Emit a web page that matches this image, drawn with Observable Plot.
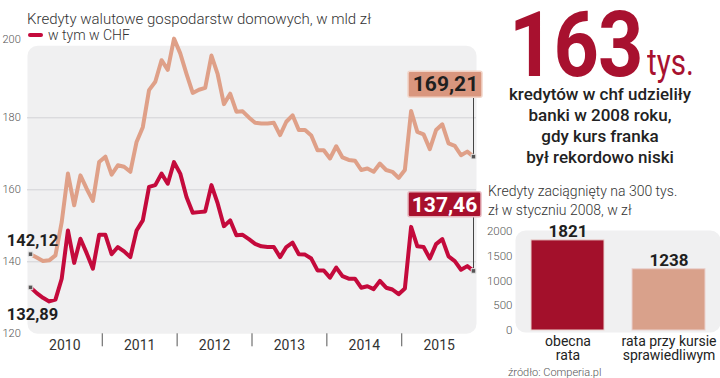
<!DOCTYPE html>
<html><head><meta charset="utf-8">
<script src="https://cdn.jsdelivr.net/npm/d3@7"></script>
<script src="https://cdn.jsdelivr.net/npm/@observablehq/plot@0.6"></script>
<style>
html,body{margin:0;padding:0;background:#fff;}
#wrap{position:relative;width:720px;height:378px;overflow:hidden;font-family:Roboto,sans-serif;}
.abs{position:absolute;white-space:nowrap;}
#p1,#p2{position:absolute;top:0;}
#p1{left:0;} #p2{left:480px;}
</style></head><body>
<div id="wrap">
  <div id="p1"></div>
  <div id="p2"></div>
  <div class="abs" style="left:27px;top:12px;font-size:15px;line-height:15px;font-weight:300;color:#333;">Kredyty walutowe gospodarstw domowych, w mld zł</div>
  <div class="abs" style="left:28px;top:33px;width:15px;height:4px;border-radius:2px;background:#c40a3c;"></div>
  <div class="abs" style="left:48px;top:28px;font-size:14px;line-height:14px;font-weight:300;color:#333;">w tym w CHF</div>
  <div class="abs" style="left:509px;top:13.2px;font-weight:bold;font-size:90px;line-height:66px;color:#a8112f;transform:scaleX(0.88);transform-origin:0 0;letter-spacing:-1px;">163</div>
  <div class="abs" style="left:647px;top:47px;font-size:37px;line-height:32px;color:#a8112f;transform:scaleX(0.8);transform-origin:0 0;">tys.</div>
  <div class="abs" style="left:500px;top:83.5px;width:200px;text-align:center;font-size:17px;line-height:21.3px;font-weight:500;color:#222;">kredytów w chf udzieliły<br>banki w 2008 roku,<br>gdy kurs franka<br>był rekordowo niski</div>
  <div class="abs" style="left:488px;top:181.7px;font-size:14px;line-height:19px;font-weight:300;color:#333;">Kredyty zaciągnięty na 300 tys.<br>zł w styczniu 2008, w zł</div>
  <div class="abs" style="left:508px;top:366.5px;font-size:11px;line-height:11px;font-weight:300;color:#555;">źródło: Comperia.pl</div>
</div>
<script>
// ---- data: line chart (monthly, Jan 2010 – Dec 2015), mld zł ----
const years = [2010, 2011, 2012, 2013, 2014, 2015];
const totalFx = [142.12,141.2,140.2,140.4,141.8,151.0,164.5,155.7,164.0,160.3,156.9,167.7,
                 169.2,164.2,166.8,166.4,165.0,173.3,177.4,187.7,190.0,196.0,193.3,202.0,
                 197.9,192.2,186.9,187.8,188.3,197.3,192.1,183.8,186.7,181.7,181.8,180.1,
                 178.6,178.4,178.4,178.6,175.2,178.9,180.7,176.6,176.6,175.1,171.0,171.0,
                 168.7,172.1,169.0,168.3,168.1,165.5,165.9,165.0,167.3,165.5,165.0,163.3,
                 165.5,181.9,176.1,175.4,171.3,176.6,178.2,172.9,172.2,169.6,170.6,169.21];
const chfOnly = [132.89,131.3,130.0,129.0,129.5,135.3,148.7,139.7,146.4,142.4,138.1,147.5,
                 147.5,142.1,144.1,142.9,141.3,148.7,151.5,160.8,161.3,164.5,161.7,167.7,
                 164.5,158.0,153.6,153.8,154.0,161.3,156.2,149.9,151.5,147.4,147.5,146.3,
                 145.0,144.3,144.1,144.1,141.3,144.1,145.3,142.1,142.0,140.9,137.6,137.6,
                 135.6,138.4,136.0,135.3,135.3,132.8,133.2,132.4,134.7,132.8,132.3,131.0,
                 132.6,149.7,144.3,144.1,140.9,144.9,146.3,141.5,140.2,137.8,138.8,137.46];
const yTicks = [120, 140, 160, 180];
const yTop = [200];
const yGrid = [140, 160, 180];

// ---- data: bar chart ----
const barCats = ["obecna\nrata", "rata przy kursie\nsprawiedliwym"];
const barValues = [1821, 1238];
const barTicks = [0, 500, 1000, 1500, 2000];

// ---- styles ----
const RED = "#c40a3c", ORANGE = "#dfa088";
const FONT = "Roboto, sans-serif";
const fmt = v => d3.format(".2f")(v).replace(".", ",");

const data = totalFx.map((v, i) => ({i, total: v, chf: chfOnly[i]}));
const first = data[0], last = data[data.length - 1];
const yearMid = years.map((y, k) => 12 * k + 5.5);
const yearSep = years.slice(1).map((y, k) => 12 * (k + 1) - 0.5);

const yAxisOpts = {tickSize: 0, tickPadding: 0, textAnchor: "start", dx: -28, fontSize: 11, fontWeight: 300, color: "#555", label: null};

const p1 = Plot.plot({
  width: 490, height: 378,
  marginLeft: 30, marginRight: 17, marginTop: 45.3, marginBottom: 44.7,
  x: {domain: [0, data.length - 1]},
  y: {domain: [120, 200]},
  style: {fontFamily: FONT, background: "transparent", overflow: "visible"},
  marks: [
    Plot.frame({fill: "#f0f0f1", rx: 10, insetLeft: -3, insetRight: -3}),
    Plot.ruleY(yGrid, {stroke: "#d2d2d6", insetLeft: -3, insetRight: -3}),
    Plot.axisY({ticks: yTicks, ...yAxisOpts}),
    Plot.axisY({ticks: yTop, ...yAxisOpts, dy: -6}),
    Plot.axisX({ticks: yearSep, tickSize: 13, tickFormat: () => "", color: "#555", label: null}),
    Plot.axisX({ticks: yearMid, tickSize: 0, tickPadding: 6, tickFormat: d => String(years[Math.round((d - 5.5) / 12)]), fontSize: 14, color: "#333", label: null}),
    Plot.line(data, {x: "i", y: "total", stroke: ORANGE, strokeWidth: 4, strokeLinejoin: "round", strokeLinecap: "round"}),
    Plot.line(data, {x: "i", y: "chf", stroke: RED, strokeWidth: 4, strokeLinejoin: "round", strokeLinecap: "round"}),
    // end annotations
    Plot.ruleX([last], {x: "i", y1: "total", y2: "total", insetTop: -59, stroke: "#444", strokeWidth: 1}),
    Plot.ruleX([last], {x: "i", y1: "chf", y2: "chf", insetTop: -53.6, stroke: "#444", strokeWidth: 1}),
    Plot.rect([last], {x1: "i", x2: "i", y1: "total", y2: "total", insetLeft: -65, insetRight: -9, insetTop: -85, insetBottom: 59, fill: "#d9967e", stroke: "#f2d5c9", strokeWidth: 1.5, rx: 2}),
    Plot.rect([last], {x1: "i", x2: "i", y1: "chf", y2: "chf", insetLeft: -65, insetRight: -8, insetTop: -78.6, insetBottom: 53.6, fill: "#a8102d", stroke: "#e6b9c0", strokeWidth: 1.5, rx: 2}),
    Plot.text([last], {x: "i", y: "total", text: d => fmt(d.total), dx: -28, dy: -72, fontSize: 21, fontWeight: "bold", fill: "#1f1f1f"}),
    Plot.text([last], {x: "i", y: "chf", text: d => fmt(d.chf), dx: -29, dy: -66, fontSize: 21, fontWeight: "bold", fill: "#ffffff"}),
    // markers
    Plot.dot([first, last], {x: "i", y: "total", symbol: "square", r: 2.6, fill: "#555", stroke: "#e8e8e8", strokeWidth: 1}),
    Plot.dot([first, last], {x: "i", y: "chf", symbol: "square", r: 2.6, fill: "#555", stroke: "#e8e8e8", strokeWidth: 1}),
    // start labels
    Plot.text([first], {x: "i", y: "total", text: d => fmt(d.total), dx: 2, dy: -13, fontSize: 16.5, fontWeight: "bold", fill: "#1f1f1f"}),
    Plot.text([first], {x: "i", y: "chf", text: d => fmt(d.chf), dx: 2, dy: 27, fontSize: 16.5, fontWeight: "bold", fill: "#1f1f1f"})
  ]
});
document.getElementById("p1").appendChild(p1);

const bars = barCats.map((c, i) => ({cat: c, value: barValues[i]}));
const p2 = Plot.plot({
  width: 240, height: 378,
  marginLeft: 35, marginRight: 0, marginTop: 231, marginBottom: 48,
  x: {domain: barCats, paddingInner: 0.28, paddingOuter: 0.145, axis: null},
  y: {domain: [0, 2000]},
  color: {domain: barCats, range: ["#a3102b", "#d9a18b"]},
  style: {fontFamily: FONT, background: "transparent", overflow: "visible"},
  marks: [
    Plot.frame({fill: "#f0f0f1", rx: 10, insetBottom: -2, insetTop: -1}),
    Plot.axisY({ticks: barTicks, tickSize: 0, tickPadding: 3, tickFormat: d3.format("d"), fontSize: 11.5, fontWeight: 300, color: "#555", label: null}),
    Plot.barY(bars, {x: "cat", y: "value", fill: "cat", stroke: "#ead2cf", strokeWidth: 1}),
    Plot.text(bars, {x: "cat", y: "value", text: d => String(d.value), lineAnchor: "bottom", dy: -3, fontSize: 17, fontWeight: "bold", fill: "#1f1f1f"}),
    Plot.text(bars, {x: "cat", text: "cat", frameAnchor: "bottom", lineAnchor: "top", dy: 6, fontSize: 14, lineHeight: 1, fill: "#222"})
  ]
});
document.getElementById("p2").appendChild(p2);
</script>
</body></html>
